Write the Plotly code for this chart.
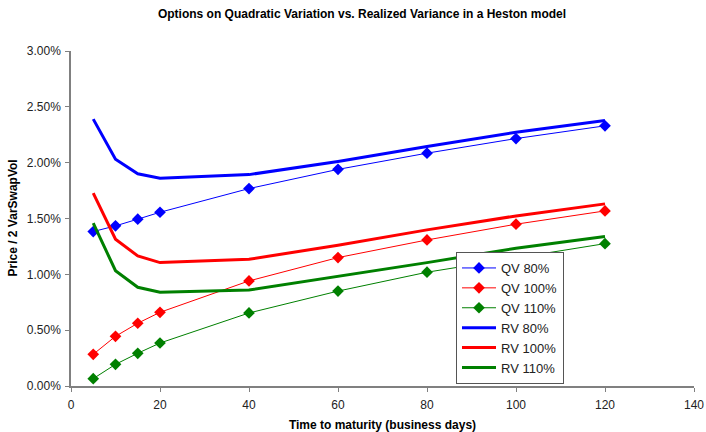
import plotly.graph_objects as go

days = [5, 10, 15, 20, 40, 60, 80, 100, 120]

qv_80 = [0.01383, 0.01434, 0.01494, 0.01556, 0.01768, 0.0194, 0.02085, 0.02216, 0.0233]
qv_100 = [0.00284, 0.00445, 0.00562, 0.0066, 0.00941, 0.0115, 0.01308, 0.01449, 0.01568]
qv_110 = [0.00066, 0.00194, 0.00293, 0.00385, 0.00654, 0.0085, 0.01019, 0.0115, 0.01275]

rv_80 = [0.0239, 0.02031, 0.0190, 0.01861, 0.01893, 0.0201, 0.02144, 0.02273, 0.02377]
rv_100 = [0.01727, 0.01314, 0.01165, 0.01105, 0.01135, 0.0126, 0.01398, 0.01523, 0.01631]
rv_110 = [0.01458, 0.01033, 0.00884, 0.0084, 0.0086, 0.0098, 0.01105, 0.01234, 0.01338]

x_ticks = [0, 20, 40, 60, 80, 100, 120, 140]
y_ticks = [0, 0.005, 0.01, 0.015, 0.02, 0.025, 0.03]

FONT = "Liberation Sans, Arial, sans-serif"

fig = go.Figure()

qv_series = [("QV 80%", qv_80, "#0000FF"), ("QV 100%", qv_100, "#FF0000"), ("QV 110%", qv_110, "#008000")]
rv_series = [("RV 80%", rv_80, "#0000FF"), ("RV 100%", rv_100, "#FF0000"), ("RV 110%", rv_110, "#008000")]

for name, vals, col in qv_series:
    fig.add_trace(go.Scatter(
        x=days, y=vals, name=name, mode="lines+markers",
        line=dict(color=col, width=1),
        marker=dict(symbol="diamond", size=9, color=col),
    ))

for name, vals, col in rv_series:
    fig.add_trace(go.Scatter(
        x=days, y=vals, name=name, mode="lines",
        line=dict(color=col, width=3),
    ))

fig.update_layout(
    width=706, height=432,
    paper_bgcolor="white", plot_bgcolor="white",
    margin=dict(l=71, r=12, t=51, b=46),
    font=dict(family=FONT, size=12, color="#222222"),
    title=dict(
        text="<b>Options on Quadratic Variation vs. Realized Variance in a Heston model</b>",
        x=362 / 706, xanchor="center", y=1 - 14 / 432, yanchor="middle",
        font=dict(family=FONT, size=12, color="black"),
        automargin=False,
    ),
    showlegend=True,
    legend=dict(
        x=(456 - 71) / 623, y=(386 - 252) / 335, xanchor="left", yanchor="top",
        bgcolor="white", bordercolor="#555555", borderwidth=1,
        font=dict(family=FONT, size=13, color="#222222"),
        tracegroupgap=0, itemwidth=34,
    ),
    xaxis=dict(
        range=[0, 140], tickvals=x_ticks, ticktext=[str(v) for v in x_ticks],
        showgrid=False, zeroline=False, automargin=False,
        showline=True, linecolor="#808080", linewidth=1.5,
        ticks="outside", ticklen=4, tickcolor="#808080",
        ticklabelstandoff=3,
        title=dict(text="<b>Time to maturity (business days)</b>",
                   font=dict(family=FONT, size=12, color="black")),
    ),
    yaxis=dict(
        range=[0, 0.03], tickvals=y_ticks, tickformat=".2%",
        showgrid=False, zeroline=False, automargin=False,
        showline=True, linecolor="#808080", linewidth=1.5,
        ticks="outside", ticklen=4, tickcolor="#808080",
        ticklabelstandoff=2,
    ),
    annotations=[dict(
        text="<b>Price / 2 VarSwapVol</b>", textangle=-90,
        xref="paper", yref="paper", x=(12 - 71) / 623, y=0.5,
        xanchor="center", yanchor="middle", showarrow=False,
        font=dict(family=FONT, size=12, color="black"),
    )],
)

fig.write_html(
    "out.html",
    config={"displayModeBar": False},
    post_script="document.body.style.margin='0';document.body.style.overflow='hidden';",
)
